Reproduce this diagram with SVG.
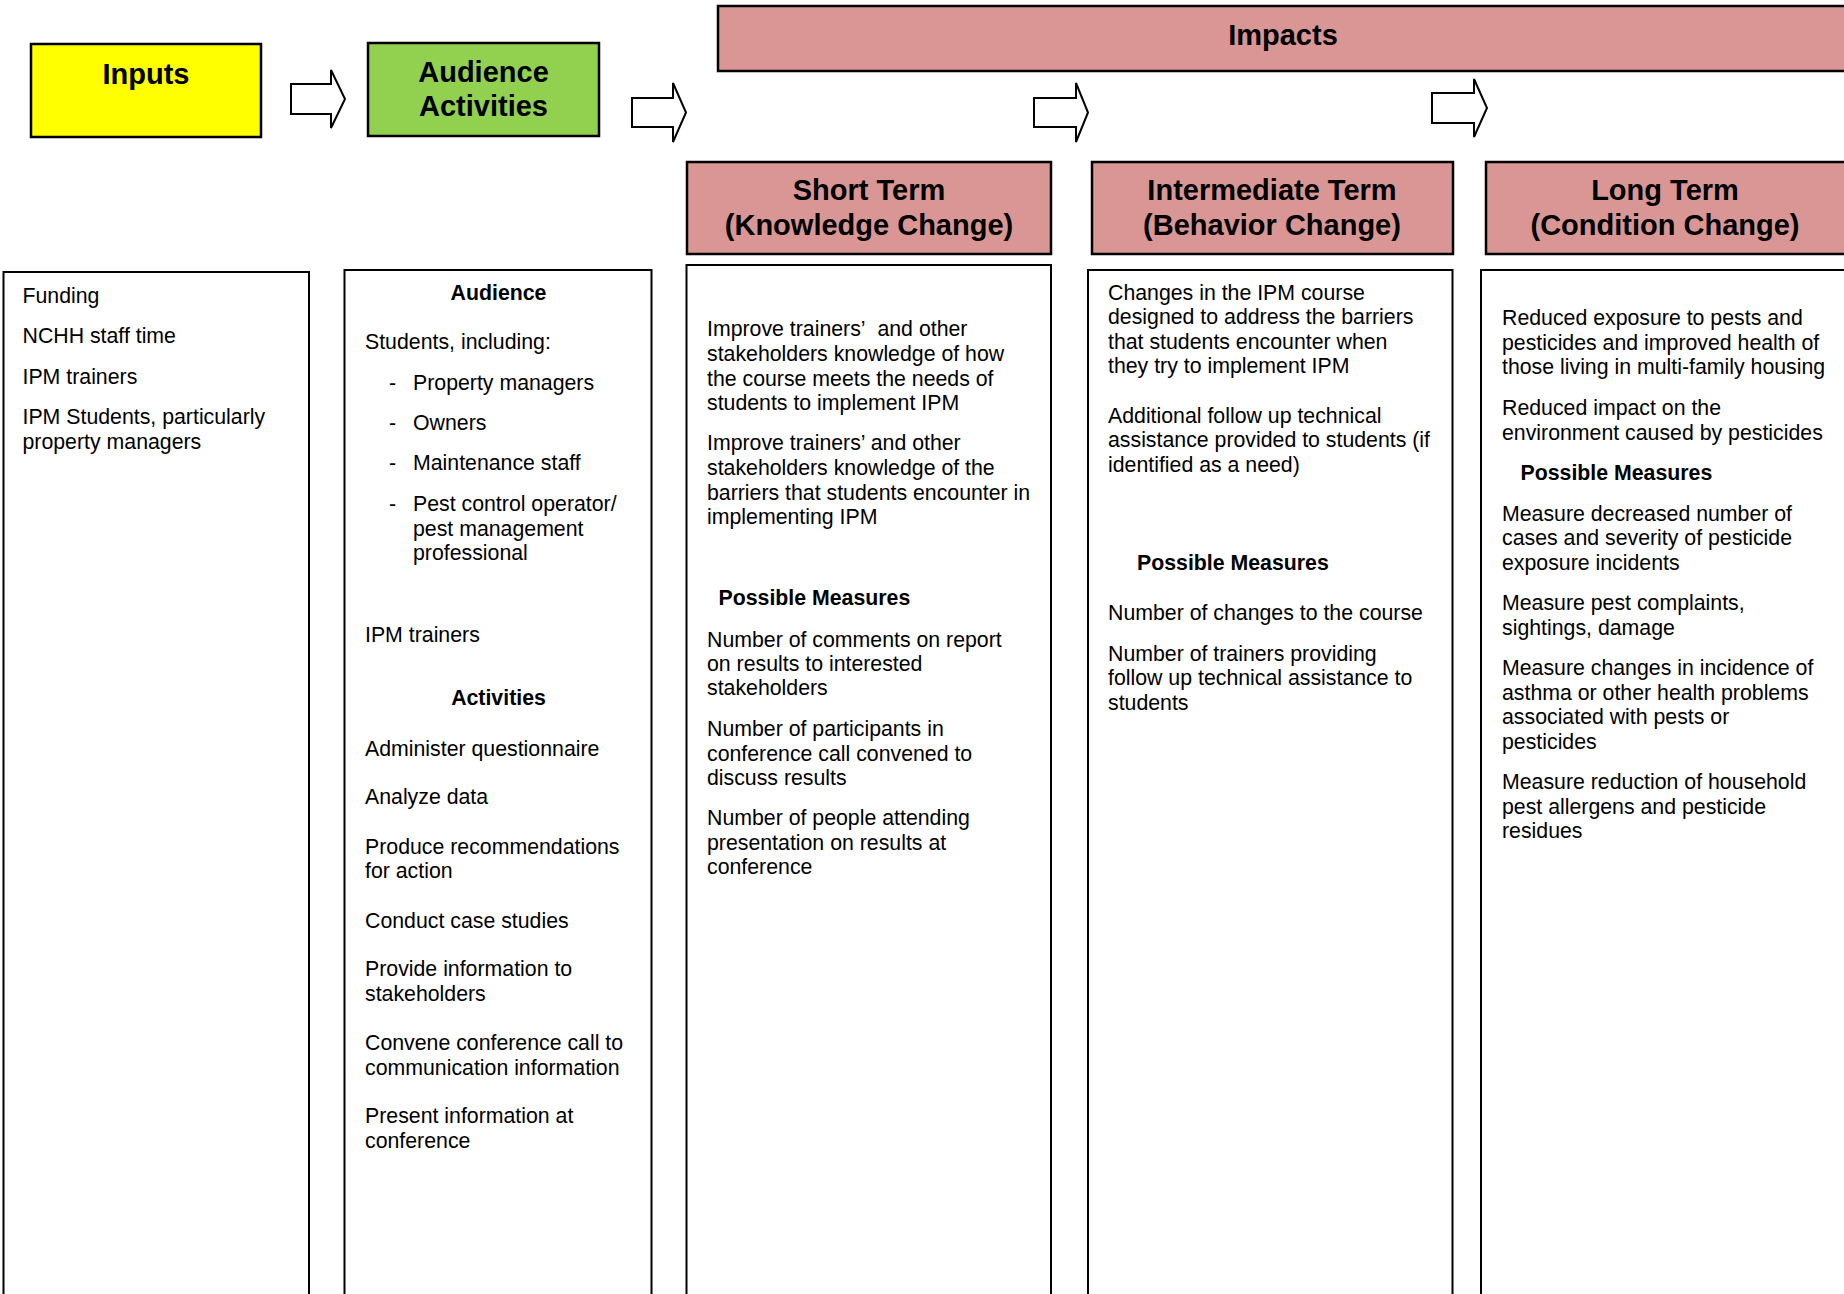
<svg xmlns="http://www.w3.org/2000/svg" width="1844" height="1294" viewBox="0 0 1844 1294">
<style>
.bx{fill:#fff;stroke:#000;stroke-width:2}
.hd{stroke:#000;stroke-width:2.5}
.y{fill:#FFFF00}.g{fill:#92D050}.p{fill:#D99694}
.h{font-family:"Liberation Sans",Arial,sans-serif;font-weight:bold;font-size:29px;text-anchor:middle;fill:#000}
.t{font-family:"Liberation Sans",Arial,sans-serif;font-size:21.3px;fill:#000}
.tb{font-family:"Liberation Sans",Arial,sans-serif;font-size:21.3px;font-weight:bold;fill:#000}
.c{text-anchor:middle}
.ar{fill:#fff;stroke:#000;stroke-width:2;stroke-linejoin:miter}
</style>
<rect width="1844" height="1294" fill="#fff"/>

<g id="inputs-header">
<rect class="hd y" x="31" y="44" width="230" height="93"/>
<text class="h" x="146" y="83.5">Inputs</text>
</g>
<g id="audience-header">
<rect class="hd g" x="368" y="43" width="231" height="93"/>
<text class="h" x="483.5" y="81.5">Audience</text>
<text class="h" x="483.5" y="116">Activities</text>
</g>
<g id="impacts-header">
<rect class="hd p" x="718" y="6" width="1142" height="65"/>
<text class="h" x="1283" y="45">Impacts</text>
</g>
<g id="short-header">
<rect class="hd p" x="687" y="162" width="364" height="92"/>
<text class="h" x="869" y="199.5">Short Term</text>
<text class="h" x="869" y="234.5">(Knowledge Change)</text>
</g>
<g id="intermediate-header">
<rect class="hd p" x="1092" y="162" width="361" height="92"/>
<text class="h" x="1272" y="199.5">Intermediate Term</text>
<text class="h" x="1272" y="234.5">(Behavior Change)</text>
</g>
<g id="long-header">
<rect class="hd p" x="1486" y="162" width="374" height="92"/>
<text class="h" x="1665" y="199.5">Long Term</text>
<text class="h" x="1665" y="234.5">(Condition Change)</text>
</g>

<g id="connectors">
<path class="ar" d="M291,84 H331 V70 L345,99 L331,128 V114 H291 Z"/>
<path class="ar" d="M632,98 H673 V83 L686,112.5 L673,142 V127 H632 Z"/>
<path class="ar" d="M1034,98 H1076 V83 L1088,112.5 L1076,142 V127 H1034 Z"/>
<path class="ar" d="M1432,93 H1474 V79 L1487,108 L1474,137 V123 H1432 Z"/>
</g>

<g id="inputs-content">
<rect class="bx" x="3.5" y="272" width="305.5" height="1040"/>
<text class="t" x="22.5" y="303">Funding</text>
<text class="t" x="22.5" y="343">NCHH staff time</text>
<text class="t" x="22.5" y="384">IPM trainers</text>
<text class="t" x="22.5" y="424">IPM Students, particularly</text>
<text class="t" x="22.5" y="448.5">property managers</text>
</g>

<g id="audience-content">
<rect class="bx" x="344.5" y="270" width="307" height="1040"/>
<text class="tb c" x="498.5" y="300">Audience</text>
<text class="t" x="365" y="349">Students, including:</text>
<text class="t" x="389" y="390">-</text><text class="t" x="413" y="390">Property managers</text>
<text class="t" x="389" y="430">-</text><text class="t" x="413" y="430">Owners</text>
<text class="t" x="389" y="470">-</text><text class="t" x="413" y="470">Maintenance staff</text>
<text class="t" x="389" y="511">-</text><text class="t" x="413" y="511">Pest control operator/</text>
<text class="t" x="413" y="535.5">pest management</text>
<text class="t" x="413" y="560">professional</text>
<text class="t" x="365" y="642">IPM trainers</text>
<text class="tb c" x="498.5" y="705">Activities</text>
<text class="t" x="365" y="756">Administer questionnaire</text>
<text class="t" x="365" y="804">Analyze data</text>
<text class="t" x="365" y="853.5">Produce recommendations</text>
<text class="t" x="365" y="878">for action</text>
<text class="t" x="365" y="927.5">Conduct case studies</text>
<text class="t" x="365" y="976">Provide information to</text>
<text class="t" x="365" y="1000.5">stakeholders</text>
<text class="t" x="365" y="1050">Convene conference call to</text>
<text class="t" x="365" y="1074.5">communication information</text>
<text class="t" x="365" y="1123">Present information at</text>
<text class="t" x="365" y="1147.5">conference</text>
</g>

<g id="short-content">
<rect class="bx" x="686.5" y="265" width="364.5" height="1045"/>
<text class="t" x="707" y="336">Improve trainers’&#160; and other</text>
<text class="t" x="707" y="361">stakeholders knowledge of how</text>
<text class="t" x="707" y="385.5">the course meets the needs of</text>
<text class="t" x="707" y="410">students to implement IPM</text>
<text class="t" x="707" y="450">Improve trainers’ and other</text>
<text class="t" x="707" y="475">stakeholders knowledge of the</text>
<text class="t" x="707" y="499.5">barriers that students encounter in</text>
<text class="t" x="707" y="524">implementing IPM</text>
<text class="tb" x="718.5" y="605">Possible Measures</text>
<text class="t" x="707" y="646.5">Number of comments on report</text>
<text class="t" x="707" y="670.5">on results to interested</text>
<text class="t" x="707" y="695">stakeholders</text>
<text class="t" x="707" y="736">Number of participants in</text>
<text class="t" x="707" y="760.5">conference call convened to</text>
<text class="t" x="707" y="785">discuss results</text>
<text class="t" x="707" y="825">Number of people attending</text>
<text class="t" x="707" y="849.5">presentation on results at</text>
<text class="t" x="707" y="874">conference</text>
</g>

<g id="intermediate-content">
<rect class="bx" x="1088" y="270" width="364.5" height="1040"/>
<text class="t" x="1108" y="299.5">Changes in the IPM course</text>
<text class="t" x="1108" y="324">designed to address the barriers</text>
<text class="t" x="1108" y="348.5">that students encounter when</text>
<text class="t" x="1108" y="373">they try to implement IPM</text>
<text class="t" x="1108" y="423">Additional follow up technical</text>
<text class="t" x="1108" y="447">assistance provided to students (if</text>
<text class="t" x="1108" y="471.5">identified as a need)</text>
<text class="tb" x="1137" y="570">Possible Measures</text>
<text class="t" x="1108" y="619.5">Number of changes to the course</text>
<text class="t" x="1108" y="660.5">Number of trainers providing</text>
<text class="t" x="1108" y="685">follow up technical assistance to</text>
<text class="t" x="1108" y="709.5">students</text>
</g>

<g id="long-content">
<rect class="bx" x="1481" y="270" width="380" height="1040"/>
<text class="t" x="1502" y="325">Reduced exposure to pests and</text>
<text class="t" x="1502" y="349.5">pesticides and improved health of</text>
<text class="t" x="1502" y="374">those living in multi-family housing</text>
<text class="t" x="1502" y="415">Reduced impact on the</text>
<text class="t" x="1502" y="439.5">environment caused by pesticides</text>
<text class="tb" x="1520.5" y="479.5">Possible Measures</text>
<text class="t" x="1502" y="520.5">Measure decreased number of</text>
<text class="t" x="1502" y="545">cases and severity of pesticide</text>
<text class="t" x="1502" y="569.5">exposure incidents</text>
<text class="t" x="1502" y="610">Measure pest complaints,</text>
<text class="t" x="1502" y="634.5">sightings, damage</text>
<text class="t" x="1502" y="675">Measure changes in incidence of</text>
<text class="t" x="1502" y="699.5">asthma or other health problems</text>
<text class="t" x="1502" y="724">associated with pests or</text>
<text class="t" x="1502" y="748.5">pesticides</text>
<text class="t" x="1502" y="789">Measure reduction of household</text>
<text class="t" x="1502" y="813.5">pest allergens and pesticide</text>
<text class="t" x="1502" y="838">residues</text>
</g>
</svg>
